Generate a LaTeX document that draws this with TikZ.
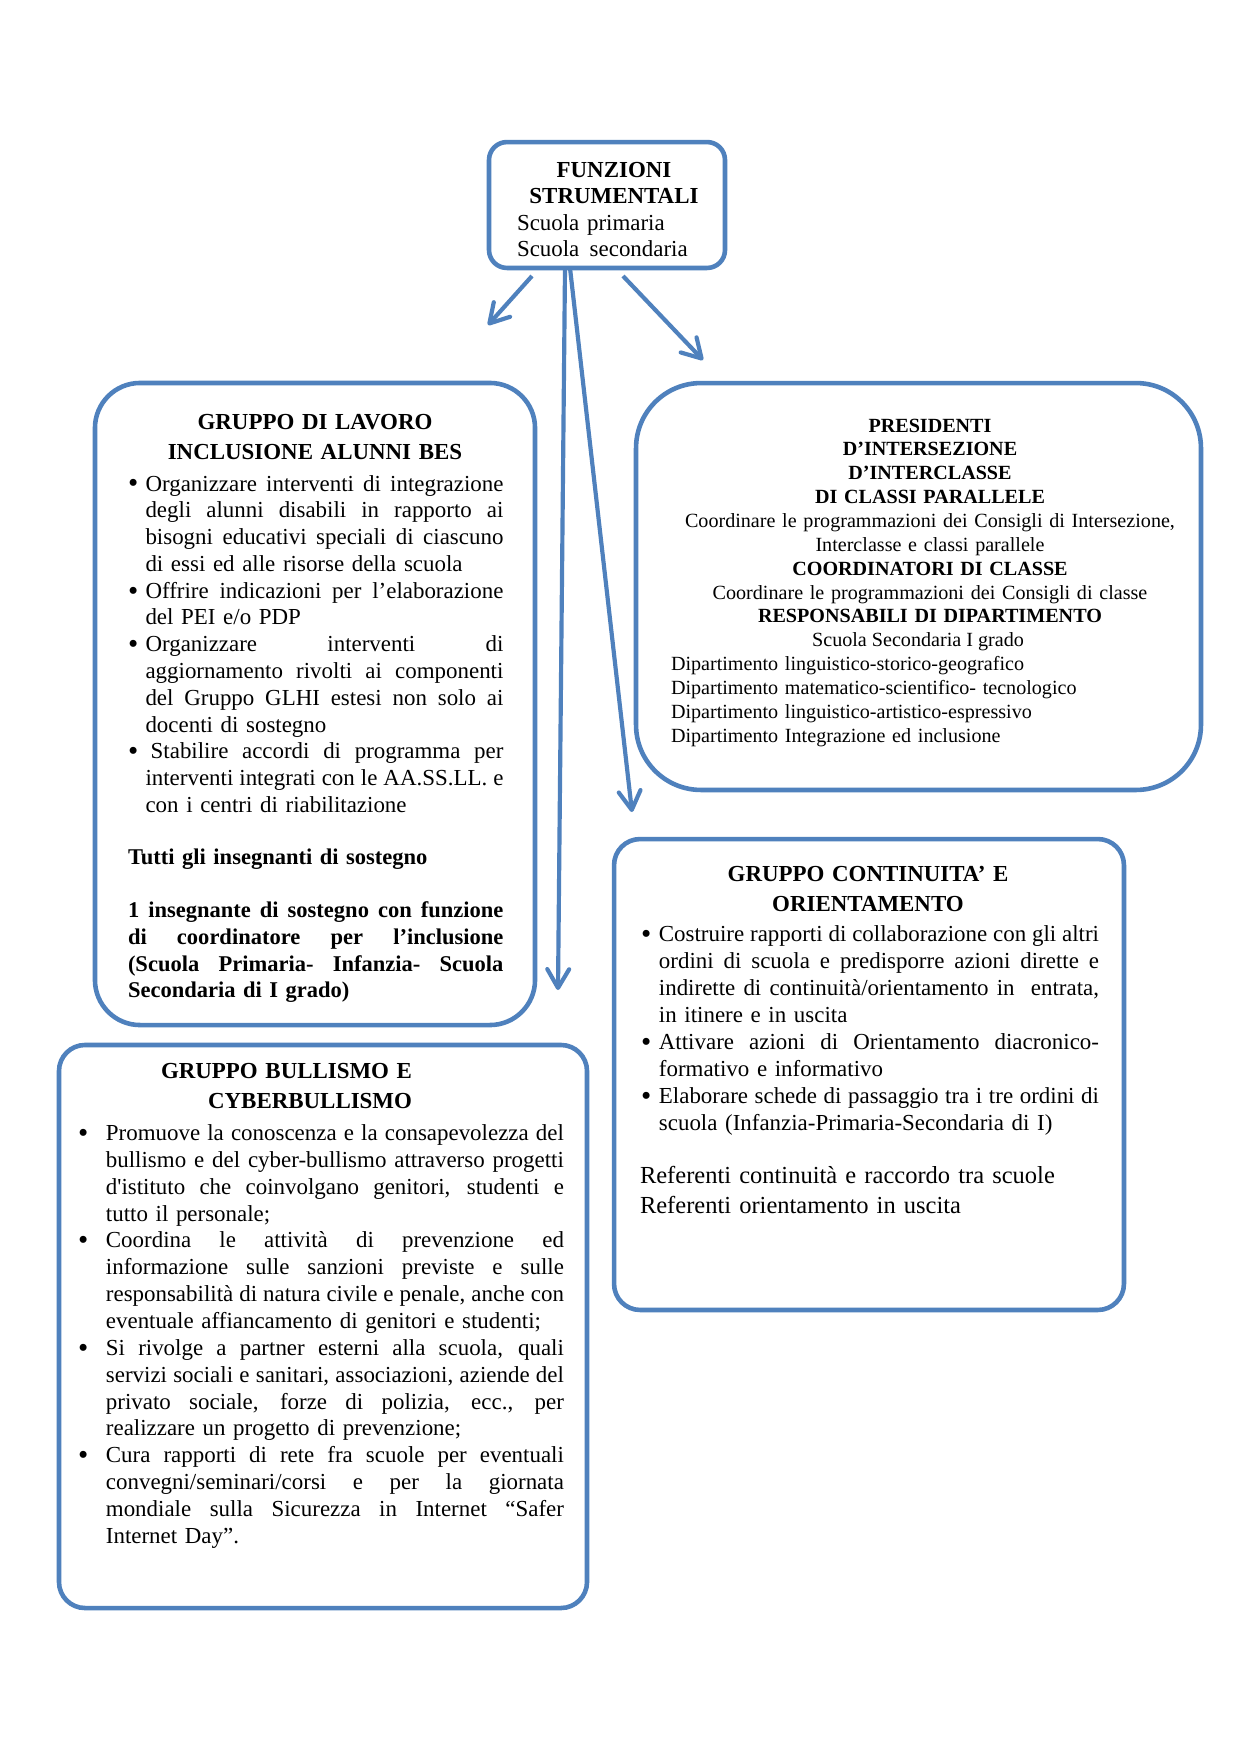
\documentclass[tikz,border=0pt]{standalone}
\usepackage{fontspec}
\setmainfont{Liberation Serif}
\usetikzlibrary{arrows.meta}
\definecolor{boxblue}{RGB}{79,129,189}
\newlength\bind
\newlength\lwid
\newcommand\Jl[1]{\leavevmode\hbox to \lwid{\spaceskip=\fontdimen2\font plus 1fil\relax #1}}
\newcommand\Bu{\makebox[\bind][l]{\raisebox{-0.9pt}{\fontsize{14}{14}\selectfont\textbullet}}}
\newcommand\In{\hspace*{\bind}}
\begin{document}
\begin{tikzpicture}[x=0.4797pt,y=-0.4797pt,
  box/.style={draw=boxblue, line width=2.2pt, inner sep=0pt, outer sep=0pt},
  arr/.style={draw=boxblue, line width=2pt, -{Straight Barb[length=9pt,width=10.5pt,round]}},
  txt/.style={inner sep=0pt, outer sep=0pt, anchor=base west, align=left, font=\fontsize{11}{12.8}\selectfont},
  ptxt/.style={inner sep=0pt, outer sep=0pt, anchor=base west, align=left, font=\fontsize{9.65}{11.45}\selectfont},
  ttl/.style={inner sep=0pt, outer sep=0pt, anchor=base, align=center, font=\fontsize{11}{14.5}\selectfont\bfseries}
]
\fill[white] (0,0) rectangle (1241,1755);
\useasboundingbox (0,0) rectangle (1241,1755);

% ---- boxes ----
\node[box, minimum width=113.2pt, minimum height=60.4pt, rounded corners=8.6pt] (top) at (607,205) {};
\node[box, minimum width=211.1pt, minimum height=308pt, rounded corners=21.6pt] (gli) at (315,704) {};
\node[box, minimum width=271pt, minimum height=195.2pt, rounded corners=31.2pt] (pres) at (918.5,586.5) {};
\node[box, minimum width=244.6pt, minimum height=225.9pt, rounded corners=12.5pt] (cont) at (869,1074.5) {};
\node[box, minimum width=253.3pt, minimum height=270.1pt, rounded corners=12.5pt] (bull) at (323,1326.5) {};

% ---- top box text ----
\node[ttl, text width=110pt, font=\fontsize{11}{12.5}\selectfont\bfseries] (toptitle) at (614,177) {FUNZIONI\\STRUMENTALI};
\node[txt, text width=100pt, font=\fontsize{11}{12.5}\selectfont] (topsub) at (517,230) {Scuola primaria\\Scuola\hspace{0.45em}secondaria};

% ---- GLI box ----
\node[ttl, text width=200pt] (glititle) at (315,429.5) {GRUPPO DI LAVORO\\INCLUSIONE ALUNNI BES};
\setlength\bind{8.4pt}\setlength\lwid{171.7pt}
\node[txt, text width=182pt, font=\fontsize{11}{12.85}\selectfont] (glilist) at (128,491) {%
\Bu\Jl{Organizzare interventi di integrazione}\\
\In\Jl{degli alunni disabili in rapporto ai}\\
\In\Jl{bisogni educativi speciali di ciascuno}\\
\In di essi ed alle risorse della scuola\\
\Bu\Jl{Offrire indicazioni per l’elaborazione}\\
\In del PEI e/o PDP\\
\Bu\Jl{Organizzare interventi di}\\
\In\Jl{aggiornamento rivolti ai componenti}\\
\In\Jl{del Gruppo GLHI estesi non solo ai}\\
\In docenti di sostegno\\
\Bu\Jl{\hspace*{2.5pt}Stabilire accordi di programma per}\\
\In\Jl{interventi integrati con le AA.SS.LL. e}\\
\In con i centri di riabilitazione};
\setlength\lwid{180.1pt}
\node[txt, text width=182pt, font=\fontsize{10.8}{12.8}\selectfont\bfseries] (glibold) at (128,864.5) {%
Tutti gli insegnanti di sostegno\\[12.8pt]
\Jl{1 insegnante di sostegno con funzione}\\
\Jl{di coordinatore per l’inclusione}\\
\Jl{(Scuola Primaria- Infanzia- Scuola}\\
Secondaria di I grado)};

% ---- PRES box ----
\node[ptxt, anchor=base, align=center, text width=262pt] (prestext) at (930,432) {%
\textbf{PRESIDENTI}\\
\textbf{D’INTERSEZIONE}\\
\textbf{D’INTERCLASSE}\\
\textbf{DI CLASSI PARALLELE}\\
Coordinare le programmazioni dei Consigli di Intersezione,\\
Interclasse e classi parallele\\
\textbf{COORDINATORI DI CLASSE}\\
Coordinare le programmazioni dei Consigli di classe\\
\textbf{RESPONSABILI DI DIPARTIMENTO}};
\node[ptxt, anchor=base] (scsec) at (918,646.7) {Scuola Secondaria I grado};
\node[ptxt, text width=250pt] (dept) at (671,670.5) {Dipartimento linguistico-storico-geografico\\
Dipartimento matematico-scientifico- tecnologico\\
Dipartimento linguistico-artistico-espressivo\\
Dipartimento Integrazione ed inclusione};

% ---- CONT box ----
\node[ttl, text width=230pt] (conttitle) at (868,881.5) {GRUPPO CONTINUITA’ E\\ORIENTAMENTO};
\setlength\bind{8.6pt}\setlength\lwid{211.1pt}
\node[txt, text width=222pt, font=\fontsize{11}{12.95}\selectfont] (contlist) at (641,941.5) {%
\Bu\Jl{Costruire rapporti di collaborazione con gli altri}\\
\In\Jl{ordini di scuola e predisporre azioni dirette e}\\
\In\Jl{indirette di continuità/orientamento in\ \ entrata,}\\
\In in itinere e in uscita\\
\Bu\Jl{Attivare azioni di Orientamento diacronico-}\\
\In formativo e informativo\\
\Bu\Jl{Elaborare schede di passaggio tra i tre ordini di}\\
\In scuola (Infanzia-Primaria-Secondaria di I)};
\node[txt, text width=230pt, font=\fontsize{11.75}{14.4}\selectfont] (contref) at (640,1183.5) {Referenti continuità e raccordo tra scuole\\
Referenti orientamento in uscita};

% ---- BULL box ----
\node[ttl, anchor=base east, align=right, text width=200pt] (bulltitle) at (412,1078.5) {GRUPPO BULLISMO E\\CYBERBULLISMO};
\setlength\bind{13.4pt}\setlength\lwid{219.7pt}
\node[txt, text width=234pt, font=\fontsize{11}{12.88}\selectfont] (bulllist) at (78,1140.5) {%
\Bu\Jl{Promuove la conoscenza e la consapevolezza del}\\
\In\Jl{bullismo e del cyber-bullismo attraverso progetti}\\
\In\Jl{d\textquotesingle istituto che coinvolgano genitori, studenti e}\\
\In tutto il personale;\\
\Bu\Jl{Coordina le attività di prevenzione ed}\\
\In\Jl{informazione sulle sanzioni previste e sulle}\\
\In\Jl{responsabilità di natura civile e penale, anche con}\\
\In eventuale affiancamento di genitori e studenti;\\
\Bu\Jl{Si rivolge a partner esterni alla scuola, quali}\\
\In\Jl{servizi sociali e sanitari, associazioni, aziende del}\\
\In\Jl{privato sociale, forze di polizia, ecc., per}\\
\In realizzare un progetto di prevenzione;\\
\Bu\Jl{Cura rapporti di rete fra scuole per eventuali}\\
\In\Jl{convegni/seminari/corsi e per la giornata}\\
\In\Jl{mondiale sulla Sicurezza in Internet “Safer}\\
\In Internet Day”.};

% ---- arrows ----
\coordinate (a1s) at (532,276);
\coordinate (a1e) at (488,325);
\coordinate (a2s) at (623,276);
\coordinate (a2e) at (703,360);
\coordinate (a3s) at (565,268);
\coordinate (a3e) at (558,990);
\coordinate (a4s) at (570,268);
\coordinate (a4e) at (632,812);
\draw[arr] (a1s) -- (a1e);
\draw[arr] (a2s) -- (a2e);
\draw[arr] (a3s) -- (a3e);
\draw[arr] (a4s) -- (a4e);
\end{tikzpicture}
\end{document}
